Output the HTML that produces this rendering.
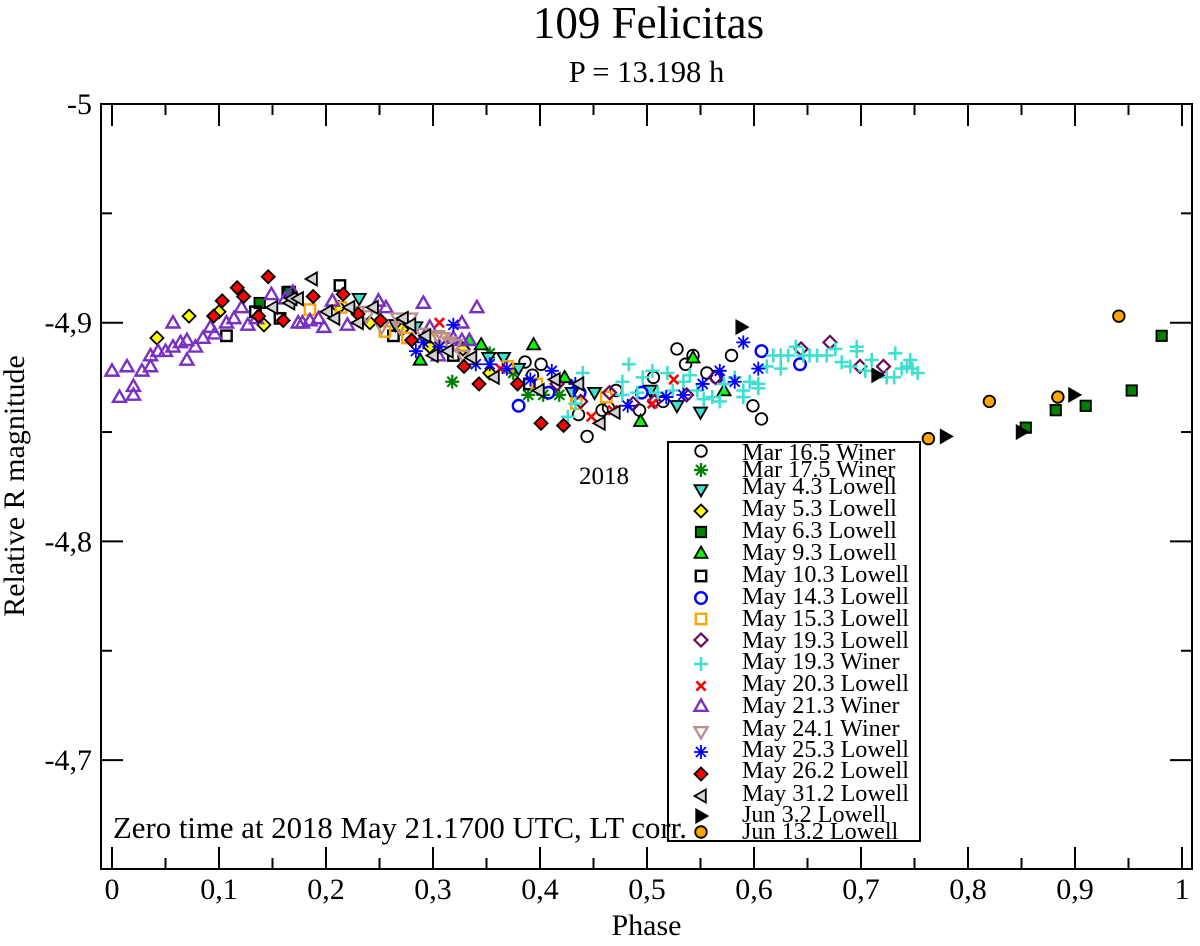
<!DOCTYPE html>
<html lang="en">
<head>
<meta charset="utf-8">
<title>109 Felicitas</title>
<style>
html,body{margin:0;padding:0;background:#fff;}
svg{display:block;font-family:"Liberation Serif",serif;}
</style>
</head>
<body>
<svg id="chart" xmlns="http://www.w3.org/2000/svg" width="1200" height="946" viewBox="0 0 1200 946">
<rect width="1200" height="946" fill="#fff"/>
<text x="648.5" y="38" font-size="45" text-anchor="middle">109 Felicitas</text>
<text x="646.5" y="82" font-size="30.6" text-anchor="middle">P = 13.198 h</text>
<text x="646.5" y="935" font-size="30" text-anchor="middle">Phase</text>
<text transform="translate(24,486) rotate(-90)" font-size="30" text-anchor="middle">Relative R magnitude</text>
<g id="marks"></g>
<g id="axes"></g>
<text x="579" y="484" font-size="25">2018</text>
<g id="legend"></g>
<text x="113" y="838" font-size="30.8">Zero time at 2018 May 21.1700 UTC, LT corr.</text>
</svg>
<script>
var xMajorTicks = [0, 0.1, 0.2, 0.3, 0.4, 0.5, 0.6, 0.7, 0.8, 0.9, 1];
var xMajorLabels = ["0", "0,1", "0,2", "0,3", "0,4", "0,5", "0,6", "0,7", "0,8", "0,9", "1"];
var xMinorTicks = [0.05, 0.15, 0.25, 0.35, 0.45, 0.55, 0.65, 0.75, 0.85, 0.95];
var yMajorTicks = [-5, -4.9, -4.8, -4.7];
var yMajorLabels = ["-5", "-4,9", "-4,8", "-4,7"];
var yMinorTicks = [-4.95, -4.85, -4.75];

var mar16Phase = [.386,.401,.393,.436,.444,.458,.464,.471,.493,.506,.515,.528,.543,.536,.556,.565,.579,.599,.607];
var mar16Mag = [-4.882,-4.881,-4.876,-4.858,-4.848,-4.860,-4.861,-4.869,-4.860,-4.875,-4.864,-4.888,-4.885,-4.881,-4.877,-4.875,-4.885,-4.862,-4.856];
var mar17Phase = [.318,.353,.375,.389,.403,.418];
var mar17Mag = [-4.873,-4.886,-4.877,-4.867,-4.867,-4.867];
var may4Phase = [.231,.265,.284,.352,.366,.380,.430,.451,.503,.528,.550];
var may4Mag = [-4.911,-4.899,-4.898,-4.884,-4.884,-4.879,-4.868,-4.868,-4.869,-4.862,-4.859];
var may5Phase = [.042,.072,.100,.142,.168,.212,.241,.271,.297,.328,.353];
var may5Mag = [-4.893,-4.903,-4.905,-4.899,-4.913,-4.907,-4.900,-4.897,-4.889,-4.888,-4.877];
var may6Phase = [.138,.164,.854,.882,.910,.953,.981];
var may6Mag = [-4.909,-4.914,-4.852,-4.860,-4.862,-4.869,-4.894];
var may9Phase = [.288,.334,.345,.394,.423,.494,.543,.572];
var may9Mag = [-4.883,-4.892,-4.890,-4.890,-4.875,-4.855,-4.884,-4.869];
var may10Phase = [.107,.134,.157,.166,.213,.263,.319,.390];
var may10Mag = [-4.894,-4.905,-4.902,-4.914,-4.917,-4.894,-4.885,-4.872];
var may14Phase = [.380,.408,.437,.495,.565,.607,.643];
var may14Mag = [-4.862,-4.868,-4.868,-4.868,-4.875,-4.887,-4.881];
var may15Phase = [.185,.214,.255,.276,.307,.370,.397,.434,.462];
var may15Mag = [-4.906,-4.907,-4.896,-4.893,-4.893,-4.880,-4.872,-4.863,-4.866];
var may19LPhase = [.416,.438,.465,.487,.507,.537,.564,.644,.671,.699,.721];
var may19LMag = [-4.872,-4.864,-4.868,-4.863,-4.864,-4.867,-4.875,-4.888,-4.891,-4.880,-4.880];
var may19WPhase = [.426,.433,.440,.477,.477,.483,.491,.496,.505,.510,.519,.524,.534,.540,.547,.553,.561,.568,.572,.582,.590,.590,.596,.604,.604,.612,.618,.625,.625,.632,.639,.646,.652,.659,.668,.676,.682,.690,.696,.696,.704,.710,.724,.731,.732,.738,.743,.746,.748,.753];
var may19WMag = [-4.857,-4.863,-4.877,-4.873,-4.867,-4.881,-4.868,-4.875,-4.878,-4.868,-4.877,-4.869,-4.873,-4.876,-4.869,-4.865,-4.866,-4.864,-4.872,-4.875,-4.869,-4.866,-4.873,-4.872,-4.870,-4.880,-4.885,-4.885,-4.879,-4.885,-4.889,-4.885,-4.885,-4.885,-4.885,-4.888,-4.882,-4.880,-4.889,-4.887,-4.878,-4.883,-4.875,-4.875,-4.886,-4.879,-4.880,-4.883,-4.879,-4.877];
var may20Phase = [.306,.363,.448,.468,.505,.525];
var may20Mag = [-4.900,-4.879,-4.857,-4.860,-4.863,-4.874];
var may21Phase = [.000,.007,.014,.020,.020,.028,.036,.036,.043,.050,.057,.057,.064,.070,.070,.078,.085,.092,.096,.107,.114,.121,.127,.135,.149,.162,.169,.174,.178,.185,.193,.198,.206,.220,.249,.256,.291,.297,.305,.319,.327,.327,.334,.341];
var may21Mag = [-4.878,-4.866,-4.880,-4.871,-4.867,-4.878,-4.880,-4.885,-4.887,-4.887,-4.889,-4.900,-4.891,-4.892,-4.883,-4.889,-4.893,-4.898,-4.895,-4.900,-4.902,-4.907,-4.899,-4.902,-4.913,-4.911,-4.914,-4.900,-4.900,-4.901,-4.902,-4.898,-4.910,-4.899,-4.910,-4.907,-4.909,-4.898,-4.885,-4.893,-4.900,-4.892,-4.892,-4.907];
var may24Phase = [.230,.238,.252,.267,.269,.279,.290,.304,.309,.315,.321,.328];
var may24Mag = [-4.905,-4.903,-4.898,-4.902,-4.898,-4.902,-4.895,-4.894,-4.893,-4.891,-4.890,-4.885];
var may25Phase = [.319,.284,.291,.306,.340,.353,.369,.391,.411,.433,.482,.518,.534,.552,.568,.582,.604,.590];
var may25Mag = [-4.899,-4.887,-4.891,-4.889,-4.881,-4.881,-4.879,-4.874,-4.878,-4.872,-4.862,-4.866,-4.867,-4.872,-4.878,-4.873,-4.879,-4.891];
var may26Phase = [.146,.117,.123,.103,.095,.137,.160,.188,.216,.230,.251,.280,.329,.343,.379,.401,.422];
var may26Mag = [-4.921,-4.916,-4.912,-4.910,-4.903,-4.903,-4.901,-4.912,-4.913,-4.904,-4.901,-4.892,-4.880,-4.872,-4.872,-4.854,-4.853];
var may31Phase = [.150,.166,.168,.174,.187,.201,.208,.222,.230,.244,.272,.279,.293,.300,.314,.336,.357,.399,.414,.436,.456,.470];
var may31Mag = [-4.907,-4.909,-4.911,-4.911,-4.920,-4.905,-4.902,-4.907,-4.900,-4.907,-4.902,-4.899,-4.894,-4.885,-4.887,-4.884,-4.875,-4.869,-4.874,-4.872,-4.854,-4.859];
var jun3Phase = [.588,.715,.779,.850,.899];
var jun3Mag = [-4.898,-4.876,-4.848,-4.850,-4.867];
var jun13Phase = [.763,.820,.884,.941];
var jun13Mag = [-4.847,-4.864,-4.866,-4.903];

var seriesLabels = ["Mar 16.5 Winer","Mar 17.5 Winer","May 4.3 Lowell","May 5.3 Lowell","May 6.3 Lowell","May 9.3 Lowell","May 10.3 Lowell","May 14.3 Lowell","May 15.3 Lowell","May 19.3 Lowell","May 19.3 Winer","May 20.3 Lowell","May 21.3 Winer","May 24.1 Winer","May 25.3 Lowell","May 26.2 Lowell","May 31.2 Lowell","Jun 3.2 Lowell","Jun 13.2 Lowell"];
var seriesPhases = [mar16Phase,mar17Phase,may4Phase,may5Phase,may6Phase,may9Phase,may10Phase,may14Phase,may15Phase,may19LPhase,may19WPhase,may20Phase,may21Phase,may24Phase,may25Phase,may26Phase,may31Phase,jun3Phase,jun13Phase];
var seriesMags = [mar16Mag,mar17Mag,may4Mag,may5Mag,may6Mag,may9Mag,may10Mag,may14Mag,may15Mag,may19LMag,may19WMag,may20Mag,may21Mag,may24Mag,may25Mag,may26Mag,may31Mag,jun3Mag,jun13Mag];

var styles = [
 {s:'circle',f:'none',c:'#000',w:1.8},
 {s:'star',f:'none',c:'#008000',w:2.2},
 {s:'down',f:'#40e0d0',c:'#000',w:1.8},
 {s:'diamond',f:'#ffff00',c:'#000',w:1.8},
 {s:'square',f:'#008000',c:'#000',w:1.8},
 {s:'up',f:'#00ff00',c:'#000',w:1.8},
 {s:'square',f:'none',c:'#000',w:2.4},
 {s:'circle',f:'none',c:'#0000ff',w:2.4},
 {s:'square',f:'none',c:'#ffa500',w:2.4},
 {s:'diamond',f:'none',c:'#670a55',w:2.2},
 {s:'plus',f:'none',c:'#40e0d0',w:2.6},
 {s:'cross',f:'none',c:'#ff0000',w:2.6},
 {s:'up',f:'none',c:'#7a30c0',w:2.4},
 {s:'down',f:'none',c:'#bc8f8f',w:2.4},
 {s:'star',f:'none',c:'#0000ff',w:1.8},
 {s:'diamond',f:'#ff0000',c:'#000',w:1.8},
 {s:'left',f:'#d3d3d3',c:'#000',w:1.8},
 {s:'right',f:'#000',c:'#000',w:1.8},
 {s:'circle',f:'#ffa500',c:'#000',w:1.8}
];
var legendRowY = [451,470,490,511,532,553,576,598,619,640,664,686,706,732,752,774,796,816,832];
var legendTextY = [460,477,494,516,538,560,582,604,626,648,669,691,713,736,757,778,801,822,839];

var NS = 'http://www.w3.org/2000/svg';
var X0 = 112, XS = 1070, YTOP = 104, YS = 2187;
var LEFT = 101, RIGHT = 1192, BOTTOM = 869;
function xScale(v){ return X0 + v * XS; }
function yScale(v){ return YTOP + (v + 5) * YS; }
function mk(tag, attrs, parent){
  var el = document.createElementNS(NS, tag);
  for (var k in attrs) el.setAttribute(k, attrs[k]);
  parent.appendChild(el);
  return el;
}
function slug(s){ return s.toLowerCase().replace(/[^a-z0-9]+/g, '-'); }
function marker(parent, st, x, y){
  var a = {fill: st.f, stroke: st.c, 'stroke-width': st.w, 'stroke-linejoin': 'miter'};
  var s = st.s, pts;
  if (s === 'circle') { a.cx = x; a.cy = y; a.r = 5.8; return mk('circle', a, parent); }
  if (s === 'square') { a.x = x - 5.2; a.y = y - 5.2; a.width = 10.4; a.height = 10.4; return mk('rect', a, parent); }
  if (s === 'diamond') pts = [[0,-6.5],[6.5,0],[0,6.5],[-6.5,0]];
  if (s === 'up') pts = [[0,-6.5],[6.5,4.8],[-6.5,4.8]];
  if (s === 'down') pts = [[-6.5,-4.8],[6.5,-4.8],[0,6.5]];
  if (s === 'left') pts = [[-6.5,0],[4.8,-6.5],[4.8,6.5]];
  if (s === 'right') pts = [[6.5,0],[-4.8,-6.5],[-4.8,6.5]];
  if (pts) {
    a.points = pts.map(function(p){ return (x + p[0]) + ',' + (y + p[1]); }).join(' ');
    return mk('polygon', a, parent);
  }
  var d = '';
  if (s === 'plus') d = 'M' + (x-7) + ' ' + y + 'H' + (x+7) + 'M' + x + ' ' + (y-7) + 'V' + (y+7);
  if (s === 'cross') d = 'M' + (x-4.6) + ' ' + (y-4.6) + 'L' + (x+4.6) + ' ' + (y+4.6) + 'M' + (x-4.6) + ' ' + (y+4.6) + 'L' + (x+4.6) + ' ' + (y-4.6);
  if (s === 'star') {
    var q = 5;
    d = 'M' + (x-7) + ' ' + y + 'H' + (x+7) + 'M' + x + ' ' + (y-7) + 'V' + (y+7) +
        'M' + (x-q) + ' ' + (y-q) + 'L' + (x+q) + ' ' + (y+q) + 'M' + (x-q) + ' ' + (y+q) + 'L' + (x+q) + ' ' + (y-q);
  }
  a.d = d; a.fill = 'none';
  return mk('path', a, parent);
}

var marksG = document.getElementById('marks');
seriesLabels.forEach(function(label, i){
  var g = mk('g', {}, marksG);
  
  
  seriesPhases[i].forEach(function(p, j){
    var m = marker(g, styles[i], xScale(p), yScale(seriesMags[i][j]));
    
    
  });
});

var axesG = document.getElementById('axes');
var frame = mk('rect', {x: LEFT, y: YTOP, width: RIGHT - LEFT, height: BOTTOM - YTOP, fill: 'none', stroke: '#000', 'stroke-width': 2}, axesG);


function tick(x1, y1, x2, y2){
  var t = mk('line', {x1: x1, y1: y1, x2: x2, y2: y2, stroke: '#000', 'stroke-width': 2}, axesG);
  
  
}
function label(x, y, txt, anchor){
  var t = mk('text', {x: x, y: y, 'font-size': 30, 'text-anchor': anchor}, axesG);
  t.textContent = txt;
  
  
}
xMajorTicks.forEach(function(v, i){
  var x = xScale(v);
  tick(x, BOTTOM, x, BOTTOM - 22);
  tick(x, YTOP, x, YTOP + 22);
  label(x, 899, xMajorLabels[i], 'middle');
});
xMinorTicks.forEach(function(v){
  var x = xScale(v);
  tick(x, BOTTOM, x, BOTTOM - 11);
  tick(x, YTOP, x, YTOP + 11);
});
yMajorTicks.forEach(function(v, i){
  var y = yScale(v);
  tick(LEFT, y, LEFT + 22, y);
  tick(RIGHT, y, RIGHT - 22, y);
  label(92, y + 10, yMajorLabels[i], 'end');
});
yMinorTicks.forEach(function(v){
  var y = yScale(v);
  tick(LEFT, y, LEFT + 11, y);
  tick(RIGHT, y, RIGHT - 11, y);
});

var legendG = document.getElementById('legend');
var box = mk('rect', {x: 668, y: 442, width: 252, height: 399, fill: '#fff', stroke: '#000', 'stroke-width': 2}, legendG);


seriesLabels.forEach(function(lab, i){
  var g = mk('g', {}, legendG);
  
  
  var sym = marker(g, styles[i], 701, legendRowY[i]);
  
  
  var t = mk('text', {x: 742, y: legendTextY[i], 'font-size': 24.15}, g);
  t.textContent = lab;
  
  
});
</script>
</body>
</html>
